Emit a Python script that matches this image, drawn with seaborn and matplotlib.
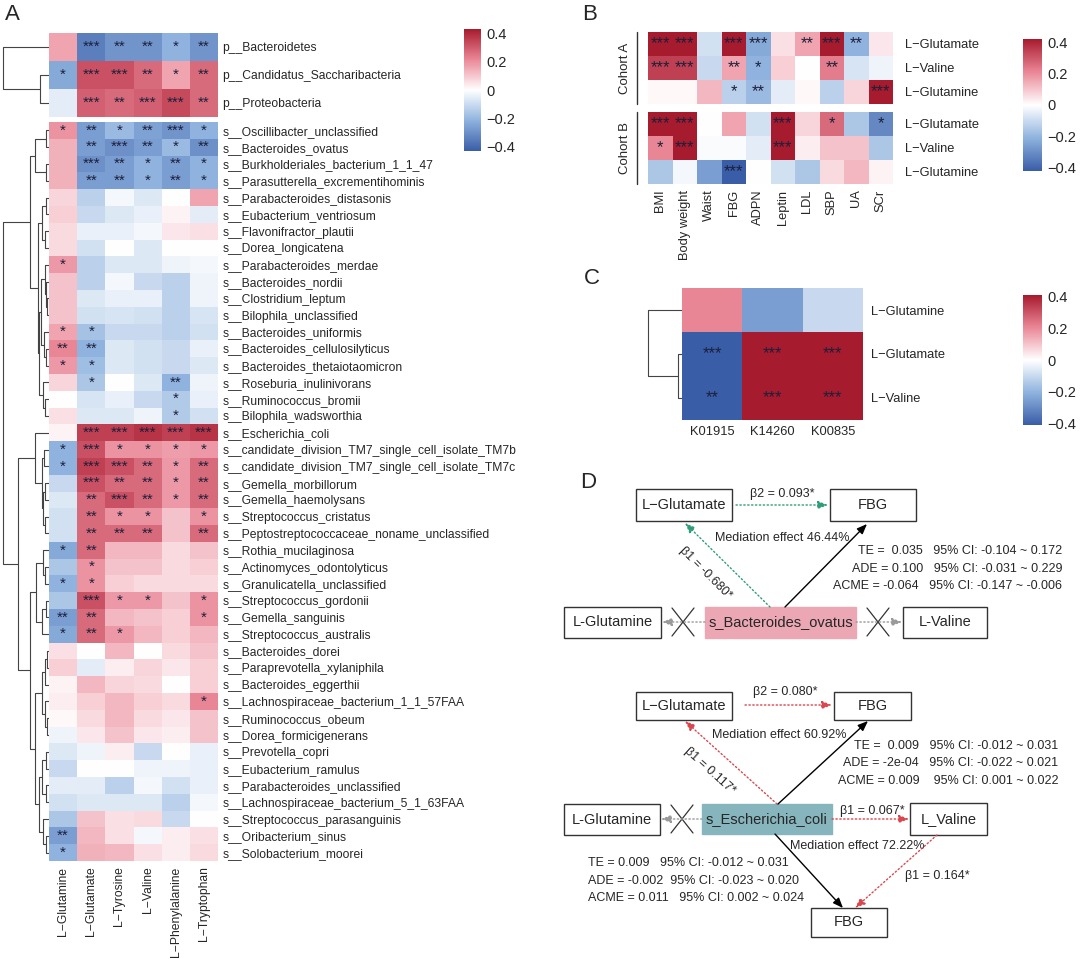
import numpy as np
import pandas as pd
import seaborn as sns
import matplotlib.pyplot as plt
from matplotlib.colors import LinearSegmentedColormap, Normalize
from matplotlib.cm import ScalarMappable
from matplotlib.patches import Rectangle

W, H = 1080, 959

# ---------------- panel A data ----------------
a_cols = ['L−Glutamine', 'L−Glutamate', 'L−Tyrosine', 'L−Valine', 'L−Phenylalanine', 'L−Tryptophan']

a_phyla = ['p__Bacteroidetes', 'p__Candidatus_Saccharibacteria', 'p__Proteobacteria']
a_phyla_vals = [
    [0.15, -0.32, -0.27, -0.27, -0.20, -0.27],
    [-0.22, 0.30, 0.30, 0.25, 0.15, 0.25],
    [-0.05, 0.27, 0.25, 0.27, 0.31, 0.25],
]
a_phyla_sig = [
    [0, 3, 2, 2, 1, 2],
    [1, 3, 3, 2, 1, 2],
    [0, 3, 2, 3, 3, 2],
]

a_species = [
    's__Oscillibacter_unclassified', 's__Bacteroides_ovatus', 's__Burkholderiales_bacterium_1_1_47',
    's__Parasutterella_excrementihominis', 's__Parabacteroides_distasonis', 's__Eubacterium_ventriosum',
    's__Flavonifractor_plautii', 's__Dorea_longicatena', 's__Parabacteroides_merdae', 's__Bacteroides_nordii',
    's__Clostridium_leptum', 's__Bilophila_unclassified', 's__Bacteroides_uniformis',
    's__Bacteroides_cellulosilyticus', 's__Bacteroides_thetaiotaomicron', 's__Roseburia_inulinivorans',
    's__Ruminococcus_bromii', 's__Bilophila_wadsworthia', 's__Escherichia_coli',
    's__candidate_division_TM7_single_cell_isolate_TM7b', 's__candidate_division_TM7_single_cell_isolate_TM7c',
    's__Gemella_morbillorum', 's__Gemella_haemolysans', 's__Streptococcus_cristatus',
    's__Peptostreptococcaceae_noname_unclassified', 's__Rothia_mucilaginosa', 's__Actinomyces_odontolyticus',
    's__Granulicatella_unclassified', 's__Streptococcus_gordonii', 's__Gemella_sanguinis',
    's__Streptococcus_australis', 's__Bacteroides_dorei', 's__Paraprevotella_xylaniphila',
    's__Bacteroides_eggerthii', 's__Lachnospiraceae_bacterium_1_1_57FAA', 's__Ruminococcus_obeum',
    's__Dorea_formicigenerans', 's__Prevotella_copri', 's__Eubacterium_ramulus',
    's__Parabacteroides_unclassified', 's__Lachnospiraceae_bacterium_5_1_63FAA',
    's__Streptococcus_parasanguinis', 's__Oribacterium_sinus', 's__Solobacterium_moorei',
]
a_species_vals = [
    [0.18, -0.25, -0.18, -0.24, -0.27, -0.20],
    [0.13, -0.25, -0.28, -0.25, -0.18, -0.28],
    [0.13, -0.28, -0.25, -0.20, -0.25, -0.20],
    [0.13, -0.25, -0.25, -0.20, -0.25, -0.20],
    [0.07, -0.12, -0.02, -0.06, 0.00, 0.15],
    [0.08, -0.10, -0.06, -0.04, 0.02, -0.05],
    [0.06, -0.04, -0.04, -0.02, 0.04, 0.05],
    [0.06, -0.08, 0.00, -0.06, 0.00, 0.00],
    [0.17, -0.12, -0.06, -0.06, -0.03, -0.02],
    [0.10, -0.12, -0.02, -0.10, -0.12, -0.03],
    [0.10, -0.06, -0.04, -0.04, -0.12, -0.03],
    [0.10, -0.08, -0.07, -0.08, -0.12, -0.07],
    [0.15, -0.16, -0.10, -0.10, -0.12, -0.08],
    [0.20, -0.20, -0.06, -0.08, -0.10, -0.04],
    [0.17, -0.17, -0.06, -0.08, -0.10, -0.06],
    [0.07, -0.15, 0.00, -0.06, -0.20, -0.03],
    [0.00, -0.07, -0.04, -0.10, -0.14, -0.04],
    [0.05, -0.06, -0.06, -0.03, -0.14, -0.08],
    [0.02, 0.33, 0.33, 0.35, 0.33, 0.35],
    [-0.20, 0.30, 0.18, 0.18, 0.16, 0.17],
    [-0.20, 0.33, 0.30, 0.25, 0.17, 0.25],
    [-0.10, 0.30, 0.25, 0.25, 0.17, 0.25],
    [-0.06, 0.25, 0.30, 0.25, 0.17, 0.25],
    [-0.08, 0.25, 0.18, 0.18, 0.10, 0.18],
    [-0.08, 0.25, 0.25, 0.25, 0.10, 0.25],
    [-0.22, 0.25, 0.12, 0.12, 0.06, 0.10],
    [-0.15, 0.18, 0.10, 0.10, 0.06, 0.08],
    [-0.20, 0.18, 0.08, 0.06, 0.06, 0.06],
    [-0.15, 0.30, 0.17, 0.17, 0.10, 0.18],
    [-0.25, 0.25, 0.12, 0.10, 0.08, 0.18],
    [-0.22, 0.25, 0.17, 0.12, 0.08, 0.12],
    [0.05, 0.00, 0.12, 0.00, 0.06, 0.10],
    [0.08, -0.05, 0.03, 0.07, 0.04, 0.08],
    [0.02, 0.12, 0.07, 0.06, 0.00, 0.08],
    [0.03, 0.08, 0.12, 0.08, 0.06, 0.20],
    [0.01, 0.06, 0.12, 0.06, 0.04, 0.10],
    [-0.03, 0.04, 0.10, 0.04, 0.03, 0.10],
    [-0.06, -0.03, 0.03, -0.10, 0.00, -0.04],
    [-0.10, 0.00, 0.00, -0.03, -0.03, -0.04],
    [-0.05, -0.05, -0.12, -0.02, -0.08, -0.04],
    [-0.08, -0.06, -0.06, -0.06, -0.12, -0.02],
    [-0.15, 0.10, 0.05, 0.06, -0.10, 0.00],
    [-0.25, 0.12, 0.05, -0.02, 0.03, 0.05],
    [-0.20, 0.13, 0.12, 0.05, 0.03, 0.06],
]
a_species_sig = [
    [1, 2, 1, 2, 3, 1], [0, 2, 3, 2, 1, 2], [0, 3, 2, 1, 2, 1], [0, 2, 2, 1, 2, 1],
    [0, 0, 0, 0, 0, 0], [0, 0, 0, 0, 0, 0], [0, 0, 0, 0, 0, 0], [0, 0, 0, 0, 0, 0],
    [1, 0, 0, 0, 0, 0], [0, 0, 0, 0, 0, 0], [0, 0, 0, 0, 0, 0], [0, 0, 0, 0, 0, 0],
    [1, 1, 0, 0, 0, 0], [2, 2, 0, 0, 0, 0], [1, 1, 0, 0, 0, 0], [0, 1, 0, 0, 2, 0],
    [0, 0, 0, 0, 1, 0], [0, 0, 0, 0, 1, 0], [0, 3, 3, 3, 3, 3], [1, 3, 1, 1, 1, 1],
    [1, 3, 3, 2, 1, 2], [0, 3, 2, 2, 1, 2], [0, 2, 3, 2, 1, 2], [0, 2, 1, 1, 0, 1],
    [0, 2, 2, 2, 0, 2], [1, 2, 0, 0, 0, 0], [0, 1, 0, 0, 0, 0], [1, 1, 0, 0, 0, 0],
    [0, 3, 1, 1, 0, 1], [2, 2, 0, 0, 0, 1], [1, 2, 1, 0, 0, 0], [0, 0, 0, 0, 0, 0],
    [0, 0, 0, 0, 0, 0], [0, 0, 0, 0, 0, 0], [0, 0, 0, 0, 0, 1], [0, 0, 0, 0, 0, 0],
    [0, 0, 0, 0, 0, 0], [0, 0, 0, 0, 0, 0], [0, 0, 0, 0, 0, 0], [0, 0, 0, 0, 0, 0],
    [0, 0, 0, 0, 0, 0], [0, 0, 0, 0, 0, 0], [2, 0, 0, 0, 0, 0], [1, 0, 0, 0, 0, 0],
]

# dendrograms as nested [height, left, right], leaves are row indices
a_phyla_tree = [46, 0, [9, 1, 2]]
a_species_tree = [46,
    [19,
        [14, [3, 0, 1], [3, 2, 3]],
        [11,
            [7, [3, 4, 5], [4, 6, 7]],
            [10, [8, [4, 8, [3, 9, [2, 10, 11]]], [5, 12, [3, 13, 14]]], [6, 15, [4, 16, 17]]]]],
    [31,
        [14, 18, [7, [5, 19, 20], [6, [4, 21, 22], [4, 23, 24]]]],
        [19,
            [13, [6, 25, [4, 26, 27]], [7, [3, 28, 29], 30]],
            [14, [7, [4, [2, 31, 32], 33], [4, 34, [2, 35, 36]]],
                 [10, [7, [3, 37, 38], [3, 39, 40]], [6, 41, [3, 42, 43]]]]]]]

# ---------------- panel B data ----------------
b_rows = ['L−Glutamate', 'L−Valine', 'L−Glutamine']
b_cols = ['BMI', 'Body weight', 'Waist', 'FBG', 'ADPN', 'Leptin', 'LDL', 'SBP', 'UA', 'SCr']
b_cohort_a_vals = [
    [0.40, 0.40, -0.08, 0.40, -0.22, 0.05, 0.15, 0.40, -0.20, 0.04],
    [0.33, 0.33, -0.10, 0.15, -0.20, 0.08, 0.00, 0.22, -0.07, -0.03],
    [0.01, 0.01, 0.12, -0.12, -0.18, -0.05, 0.01, -0.12, 0.07, 0.40],
]
b_cohort_a_sig = [
    [3, 3, 0, 3, 3, 0, 2, 3, 2, 0],
    [3, 3, 0, 2, 1, 0, 0, 2, 0, 0],
    [0, 0, 0, 1, 2, 0, 0, 0, 0, 3],
]
b_cohort_b_vals = [
    [0.40, 0.40, 0.00, 0.15, -0.08, 0.40, 0.07, 0.25, -0.15, -0.30],
    [0.20, 0.40, -0.01, -0.01, -0.05, 0.40, 0.03, 0.10, 0.10, -0.15],
    [-0.15, -0.02, -0.25, -0.40, 0.00, -0.08, -0.15, 0.06, 0.12, 0.02],
]
b_cohort_b_sig = [
    [3, 3, 0, 0, 0, 3, 0, 1, 0, 1],
    [1, 3, 0, 0, 0, 3, 0, 0, 0, 0],
    [0, 0, 0, 3, 0, 0, 0, 0, 0, 0],
]

# ---------------- panel C data ----------------
c_rows = ['L−Glutamine', 'L−Glutamate', 'L−Valine']
c_cols = ['K01915', 'K14260', 'K00835']
c_vals = [
    [0.20, -0.25, -0.10],
    [-0.40, 0.40, 0.40],
    [-0.40, 0.40, 0.40],
]
c_sig = [
    [0, 0, 0],
    [3, 3, 3],
    [2, 3, 3],
]
c_tree = [34, 0, [4, 1, 2]]

cb_ticks = [0.4, 0.2, 0, -0.2, -0.4]
cb_labels = ['0.4', '0.2', '0', '−0.2', '−0.4']

# ---------------- panel D text ----------------
d_top_stats = ['TE =  0.035   95% CI: -0.104 ~ 0.172',
               'ADE = 0.100   95% CI: -0.031 ~ 0.229',
               'ACME = -0.064   95% CI: -0.147 ~ -0.006']
d_bot_stats_right = ['TE =  0.009   95% CI: -0.012 ~ 0.031',
                     'ADE = -2e-04   95% CI: -0.022 ~ 0.021',
                     'ACME = 0.009    95% CI: 0.001 ~ 0.022']
d_bot_stats_left = ['TE = 0.009   95% CI: -0.012 ~ 0.031',
                    'ADE = -0.002  95% CI: -0.023 ~ 0.020',
                    'ACME = 0.011   95% CI: 0.002 ~ 0.024']

sns.set_theme(style='white')
plt.rcParams['font.family'] = ['Liberation Sans', 'DejaVu Sans']

cmap = LinearSegmentedColormap.from_list(
    'corr', ['#3A5DA8', '#8FB3DE', '#FFFFFF', '#EA8797', '#A71B2E'])
star_color = '#1c1f3a'
line_color = '#444444'

fig = plt.figure(figsize=(W / 100, H / 100), dpi=100)


def px_axes(x0, y0, x1, y1):
    return fig.add_axes([x0 / W, 1 - y1 / H, (x1 - x0) / W, (y1 - y0) / H])


def heat(ax, vals, sig, rows, cols, show_x=True, xrot=90, fs=8.7, star_fs=11, pad=3):
    df = pd.DataFrame(vals, index=rows, columns=cols)
    stars = np.array([['*' * n for n in r] for r in sig])
    sns.heatmap(df, ax=ax, cmap=cmap, vmin=-0.4, vmax=0.4, cbar=False,
                annot=stars, fmt='', annot_kws={'fontsize': star_fs, 'color': star_color},
                xticklabels=cols if show_x else False, yticklabels=rows)
    ax.yaxis.tick_right()
    ax.tick_params(axis='y', length=0, pad=pad, labelsize=fs)
    plt.setp(ax.get_yticklabels(), rotation=0)
    ax.set_ylabel('')
    ax.set_xlabel('')
    if show_x:
        ax.tick_params(axis='x', length=0, pad=4, labelsize=fs)
        plt.setp(ax.get_xticklabels(), rotation=xrot)


def draw_tree(ax, node):
    if isinstance(node, int):
        return node + 0.5, 0
    h, left, right = node
    y1, h1 = draw_tree(ax, left)
    y2, h2 = draw_tree(ax, right)
    ax.plot([h1, h, h, h2], [y1, y1, y2, y2], color=line_color, lw=0.8,
            solid_capstyle='butt')
    return (y1 + y2) / 2, h


def dendro(ax, tree, n, width):
    draw_tree(ax, tree)
    ax.set_xlim(width, 0)
    ax.set_ylim(n, 0)
    ax.axis('off')


def colorbar(cax, lim):
    sm = ScalarMappable(norm=Normalize(-lim, lim), cmap=cmap)
    cb = fig.colorbar(sm, cax=cax, ticks=cb_ticks)
    cb.ax.set_yticklabels(cb_labels)
    cb.outline.set_visible(False)
    cb.ax.tick_params(length=0, pad=4, labelsize=10.5)


# ---- A ----
ax_a1 = px_axes(49, 33, 218, 117)
heat(ax_a1, a_phyla_vals, a_phyla_sig, a_phyla, a_cols, show_x=False)
ax_a2 = px_axes(49, 122, 218, 861)
heat(ax_a2, a_species_vals, a_species_sig, a_species, a_cols, show_x=True)
dendro(px_axes(0, 33, 49, 117), a_phyla_tree, len(a_phyla), 49)
dendro(px_axes(0, 122, 49, 861), a_species_tree, len(a_species), 49)
colorbar(px_axes(464, 29, 481, 151), 0.43)

# ---- B ----
ax_b1 = px_axes(648, 32, 893, 104)
heat(ax_b1, b_cohort_a_vals, b_cohort_a_sig, b_rows, b_cols, show_x=False,
     fs=9.3, star_fs=12, pad=9)
ax_b2 = px_axes(648, 112, 893, 184)
heat(ax_b2, b_cohort_b_vals, b_cohort_b_sig, b_rows, b_cols, show_x=True,
     fs=9.3, star_fs=12, pad=9)
colorbar(px_axes(1023, 39, 1042, 171), 0.42)

# ---- C ----
ax_c = px_axes(682, 288, 863, 420)
heat(ax_c, c_vals, c_sig, c_rows, c_cols, show_x=True, xrot=0,
     fs=9.3, star_fs=12, pad=6)
dendro(px_axes(646, 288, 682, 420), c_tree, len(c_rows), 36)
colorbar(px_axes(1023, 295, 1042, 425), 0.41)

# ---- overlay for labels and panel D ----
ov = fig.add_axes([0, 0, 1, 1])
ov.set_xlim(0, W)
ov.set_ylim(H, 0)
ov.axis('off')

for lab, x, y in [('A', 5, 14), ('B', 582, 14), ('C', 584, 278), ('D', 580, 483)]:
    ov.text(x, y, lab, fontsize=16, ha='left', va='center')

# cohort brackets
for lab, y0, y1 in [('Cohort A', 32, 104), ('Cohort B', 112, 184)]:
    ov.plot([637, 637], [y0, y1], color='#333333', lw=1)
    ov.text(625, (y0 + y1) / 2, lab, rotation=90, fontsize=9.5, ha='center', va='center')

green = '#2E9E78'
red = '#D9464E'
grey = '#9A9A9A'
dots = (0, (1, 1.8))


def box(x0, y0, x1, y1, text, face='white', fs=10.5):
    ov.add_patch(Rectangle((x0, y0), x1 - x0, y1 - y0, facecolor=face,
                           edgecolor='#333333' if face == 'white' else face, lw=1))
    ov.text((x0 + x1) / 2, (y0 + y1) / 2, text, fontsize=fs, ha='center', va='center')


def arrow(x0, y0, x1, y1, color, dotted=True, lw=1.0):
    ov.annotate('', xy=(x1, y1), xytext=(x0, y0),
                arrowprops=dict(arrowstyle='-|>,head_length=0.5,head_width=0.2',
                                color=color, lw=lw, linestyle=dots if dotted else '-',
                                shrinkA=0, shrinkB=0))


def cross(x, y):
    ov.plot([x - 11, x + 11], [y - 14, y + 14], color='#333333', lw=0.9)
    ov.plot([x - 11, x + 11], [y + 14, y - 14], color='#333333', lw=0.9)


# top diagram
box(636, 489, 732, 521, 'L−Glutamate')
box(830, 489, 916, 521, 'FBG')
box(564, 607, 661, 638, 'L-Glutamine')
box(903, 607, 987, 638, 'L-Valine')
box(705, 607, 856, 638, 's_Bacteroides_ovatus', face='#EBA8B4')
arrow(736, 505, 828, 505, green)
ov.text(782, 494, 'β2 = 0.093*', fontsize=9, ha='center', va='center')
arrow(770, 607, 685, 523, green)
ov.text(705, 573, 'β1 = -0.680*', fontsize=9, ha='center', va='center',
        rotation=-45, rotation_mode='anchor')
arrow(785, 607, 867, 524, 'black', dotted=False)
ov.text(715, 538, 'Mediation effect 46.44%', fontsize=9, ha='left', va='center')
for i, s in enumerate(d_top_stats):
    ov.text(1062, 551 + 17.5 * i, s, fontsize=9, ha='right', va='center')
arrow(705, 622, 662, 622, grey)
arrow(856, 622, 902, 622, grey)
cross(683, 622)
cross(878, 622)

# bottom diagram
box(636, 692, 732, 720, 'L−Glutamate')
box(834, 692, 911, 720, 'FBG')
box(564, 804, 660, 835, 'L-Glutamine')
box(910, 803, 987, 835, 'L_Valine')
box(811, 908, 887, 937, 'FBG')
box(702, 804, 832, 834, 's_Escherichia_coli', face='#86B5BE')
arrow(745, 705, 832, 705, red)
ov.text(785, 692, 'β2 = 0.080*', fontsize=9, ha='center', va='center')
arrow(777, 804, 685, 721, red)
ov.text(710, 771, 'β1 = 0.117*', fontsize=9, ha='center', va='center',
        rotation=-42, rotation_mode='anchor')
arrow(778, 804, 868, 721, 'black', dotted=False)
ov.text(712, 735, 'Mediation effect 60.92%', fontsize=9, ha='left', va='center')
for i, s in enumerate(d_bot_stats_right):
    ov.text(1058, 746 + 17.5 * i, s, fontsize=9, ha='right', va='center')
arrow(832, 819, 909, 819, red)
ov.text(872, 811, 'β1 = 0.067*', fontsize=9, ha='center', va='center')
arrow(702, 819, 661, 819, grey)
cross(682, 819)
arrow(775, 834, 843, 908, 'black', dotted=False)
ov.text(790, 846, 'Mediation effect 72.22%', fontsize=9, ha='left', va='center')
arrow(937, 835, 855, 908, red)
ov.text(937, 876, 'β1 = 0.164*', fontsize=9, ha='center', va='center')
for i, s in enumerate(d_bot_stats_left):
    ov.text(588, 863 + 17.5 * i, s, fontsize=9, ha='left', va='center')

fig.savefig('out.png', dpi=100)
plt.close(fig)
